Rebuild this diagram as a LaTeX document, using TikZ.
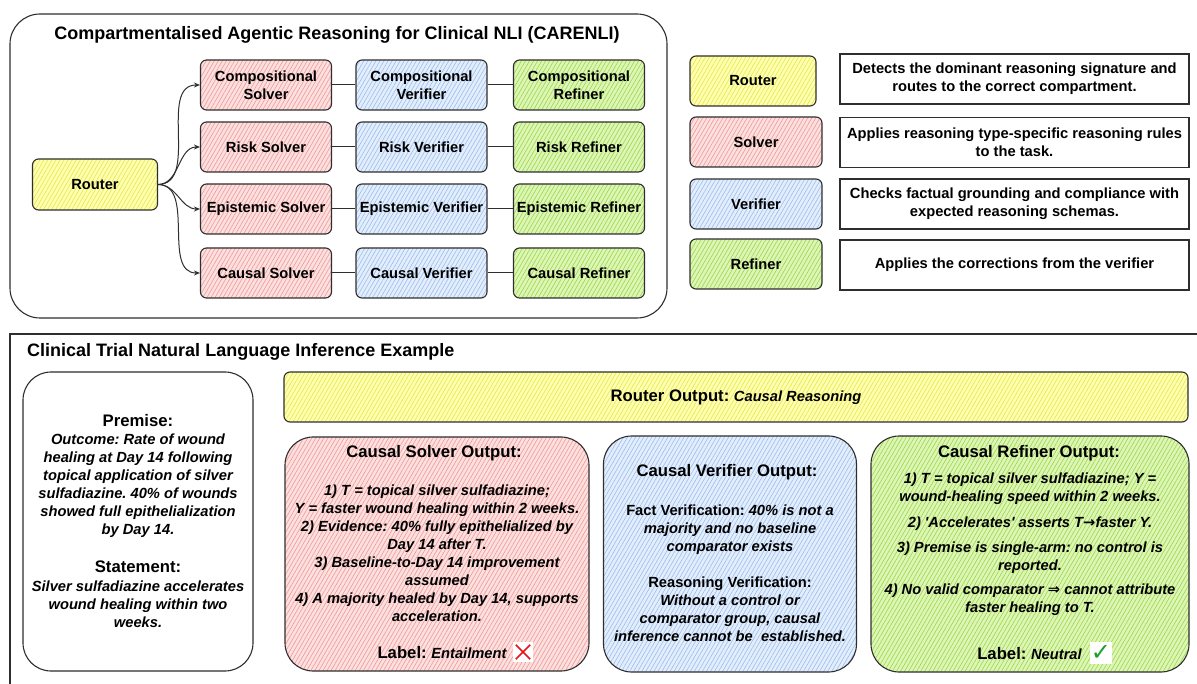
\documentclass[tikz,border=0pt]{standalone}
\usepackage{fontspec}
\setmainfont{Liberation Sans}
\newfontfamily\symfont{DejaVu Sans}
\usetikzlibrary{arrows.meta,patterns.meta}
\frenchspacing
\definecolor{edge}{HTML}{2E2E2E}
\definecolor{ylwbase}{HTML}{FFFFB0}
\definecolor{ylwline}{HTML}{E6E650}
\definecolor{redbase}{HTML}{FCE0DF}
\definecolor{redline}{HTML}{EE9A97}
\definecolor{blubase}{HTML}{E3EEFC}
\definecolor{bluline}{HTML}{9DBDEB}
\definecolor{grnbase}{HTML}{DDF6B6}
\definecolor{grnline}{HTML}{9CD64A}
\definecolor{xred}{HTML}{E8141B}
\definecolor{ckgreen}{HTML}{1E9E2A}
\tikzset{
  hatch/.style={pattern={Lines[angle=60,distance=3.5pt,line width=0.6pt]}},
  ylw/.style={preaction={fill=ylwbase},hatch,pattern color=ylwline},
  rd/.style={preaction={fill=redbase},hatch,pattern color=redline},
  bl/.style={preaction={fill=blubase},hatch,pattern color=bluline},
  gr/.style={preaction={fill=grnbase},hatch,pattern color=grnline},
  cbox/.style={draw=edge,line width=1.1pt,rounded corners=6pt,minimum width=131pt,
    minimum height=50pt,align=center,inner sep=0pt,
    font=\bfseries\fontsize{14.7}{18}\selectfont},
  dbox/.style={draw=edge,line width=1.1pt,fill=white,minimum width=349pt,
    minimum height=50pt,align=center,inner sep=0pt,
    font=\bfseries\fontsize{14.7}{18}\selectfont},
  bigbox/.style={draw=edge,line width=1.1pt,rounded corners=28pt,inner sep=0pt},
  head/.style={font=\bfseries\fontsize{16.7}{20}\selectfont,inner sep=0pt},
  body/.style={font=\bfseries\itshape\fontsize{14.7}{18}\selectfont,align=center,inner sep=0pt},
  conn/.style={draw=edge,line width=1pt,-{Stealth[length=6pt,width=5pt]}},
  link/.style={draw=edge,line width=1pt},
}
\begin{document}
\begin{tikzpicture}[x=1pt,y=-1pt]
\useasboundingbox (0,0) rectangle (1197,684);

% ---------- top frame ----------
\node[bigbox,rounded corners=30pt,minimum width=657pt,minimum height=304pt] (topframe) at (338.5,166) {};
\node[font=\bfseries\fontsize{18}{22}\selectfont,inner sep=0pt] (toptitle) at (337,35)
  {Compartmentalised Agentic Reasoning for Clinical NLI (CARENLI)};

\node[cbox,ylw,minimum width=125pt,minimum height=51pt] (router) at (95,184.5) {Router};

\node[cbox,rd] (cs1) at (266,85) {Compositional\\Solver};
\node[cbox,rd] (cs2) at (266,147) {Risk Solver};
\node[cbox,rd] (cs3) at (266,209) {Epistemic Solver};
\node[cbox,rd] (cs4) at (266,273) {Causal Solver};

\node[cbox,bl] (cv1) at (421.5,85) {Compositional\\Verifier};
\node[cbox,bl] (cv2) at (421.5,147) {Risk Verifier};
\node[cbox,bl] (cv3) at (421.5,209) {Epistemic Verifier};
\node[cbox,bl] (cv4) at (421.5,273) {Causal Verifier};

\node[cbox,gr] (cr1) at (579,85) {Compositional\\Refiner};
\node[cbox,gr] (cr2) at (579,147) {Risk Refiner};
\node[cbox,gr] (cr3) at (579,209) {Epistemic Refiner};
\node[cbox,gr] (cr4) at (579,273) {Causal Refiner};

\foreach \i in {1,2,3,4}{
  \draw[conn] (router.east) to[out=0,in=180] (cs\i.west);
  \draw[link] (cs\i.east) -- (cv\i.west);
  \draw[link] (cv\i.east) -- (cr\i.west);
}

% ---------- legend ----------
\node[cbox,ylw,minimum width=126pt] (lgr) at (753,81) {Router};
\node[cbox,rd,minimum width=132pt] (lgs) at (756,142) {Solver};
\node[cbox,bl,minimum width=132pt] (lgv) at (756,204) {Verifier};
\node[cbox,gr,minimum width=132pt] (lgf) at (756,264) {Refiner};

\node[dbox] (dr) at (1014.5,79) {Detects the dominant reasoning signature and\\routes to the correct compartment.};
\node[dbox] (ds) at (1014.5,142.5) {Applies reasoning type-specific reasoning rules\\to the task.};
\node[dbox] (dv) at (1014.5,204) {Checks factual grounding and compliance with\\expected reasoning schemas.};
\node[dbox] (df) at (1014.5,265) {Applies the corrections from the verifier};

% ---------- example section ----------
\draw[edge,line width=1.1pt] (1197,334) -- (10,334) -- (10,684);
\node[font=\bfseries\fontsize{18}{22}\selectfont,inner sep=0pt,anchor=west] (extitle) at (27,352)
  {Clinical Trial Natural Language Inference Example};

% premise
\node[bigbox,fill=white,minimum width=230pt,minimum height=299pt] (prem) at (138,521.5) {};
\node[head] (premh) at (138,421) {Premise:};
\node[body] (premt) at (138,486) {Outcome: Rate of wound\\healing at Day 14 following\\topical application of silver\\sulfadiazine. 40\% of wounds\\showed full epithelialization\\by Day 14.};
\node[head] (stath) at (138,567) {Statement:};
\node[body] (statt) at (138,604.5) {Silver sulfadiazine accelerates\\wound healing within two\\weeks.};

% router output bar
\node[draw=edge,line width=1.1pt,rounded corners=6pt,ylw,minimum width=904pt,minimum height=50pt,inner sep=0pt] (rout) at (736,397)
  {\bfseries\fontsize{16.7}{20}\selectfont Router Output: {\itshape\fontsize{14.7}{18}\selectfont Causal Reasoning}};

% solver output
\node[bigbox,rd,minimum width=304pt,minimum height=234pt] (sout) at (437,554) {};
\node[head] (south) at (434,453) {Causal Solver Output:};
\node[body] (soutt) at (437,553.5) {1) T = topical silver sulfadiazine;\\Y = faster wound healing within 2 weeks.\\2) Evidence: 40\% fully epithelialized by\\Day 14 after T.\\3) Baseline-to-Day 14 improvement\\assumed\\4) A majority healed by Day 14, supports\\acceleration.};
\node[inner sep=0pt] (slab) at (442,653) {\bfseries\fontsize{16.7}{20}\selectfont Label: {\itshape\fontsize{14.7}{18}\selectfont Entailment}};
\node[fill=white,minimum size=20pt,inner sep=0pt] (xm) at (523,652) {};
\draw[xred,line width=1.7pt] ([shift={(3,3)}]xm.north west) -- ([shift={(-3,-3)}]xm.south east);
\draw[xred,line width=1.7pt] ([shift={(-3,3)}]xm.north east) -- ([shift={(3,-3)}]xm.south west);

% verifier output
\node[bigbox,bl,minimum width=253pt,minimum height=236pt] (vout) at (730,554) {};
\node[head] (vouth) at (727,472) {Causal Verifier Output:};
\node[body] (voutt) at (730,573.5) {{\upshape Fact Verification:} 40\% is not a\\majority and no baseline\\comparator exists\\[18pt]{\upshape Reasoning Verification:}\\Without a control or\\comparator group, causal\\inference cannot be\ \ established.};

% refiner output
\node[bigbox,gr,minimum width=318pt,minimum height=236pt] (fout) at (1030,554) {};
\node[head] (fouth) at (1029,453) {Causal Refiner Output:};
\node[body] (foutt) at (1030,544.5) {1) T = topical silver sulfadiazine; Y =\\wound-healing speed within 2 weeks.\\[8pt]2) \textquotesingle Accelerates\textquotesingle\ asserts T{\symfont →}faster Y.\\[7pt]3) Premise is single-arm: no control is\\reported.\\[6pt]4) No valid comparator {\symfont ⇒} cannot attribute\\faster healing to T.};
\node[inner sep=0pt] (flab) at (1029.5,654) {\bfseries\fontsize{16.7}{20}\selectfont Label: {\itshape\fontsize{14.7}{18}\selectfont Neutral}};
\node[fill=white,minimum size=22pt,inner sep=0pt,text=ckgreen,font=\symfont\fontsize{24}{24}\selectfont] (ck) at (1101,653) {✓};
\end{tikzpicture}
\end{document}
